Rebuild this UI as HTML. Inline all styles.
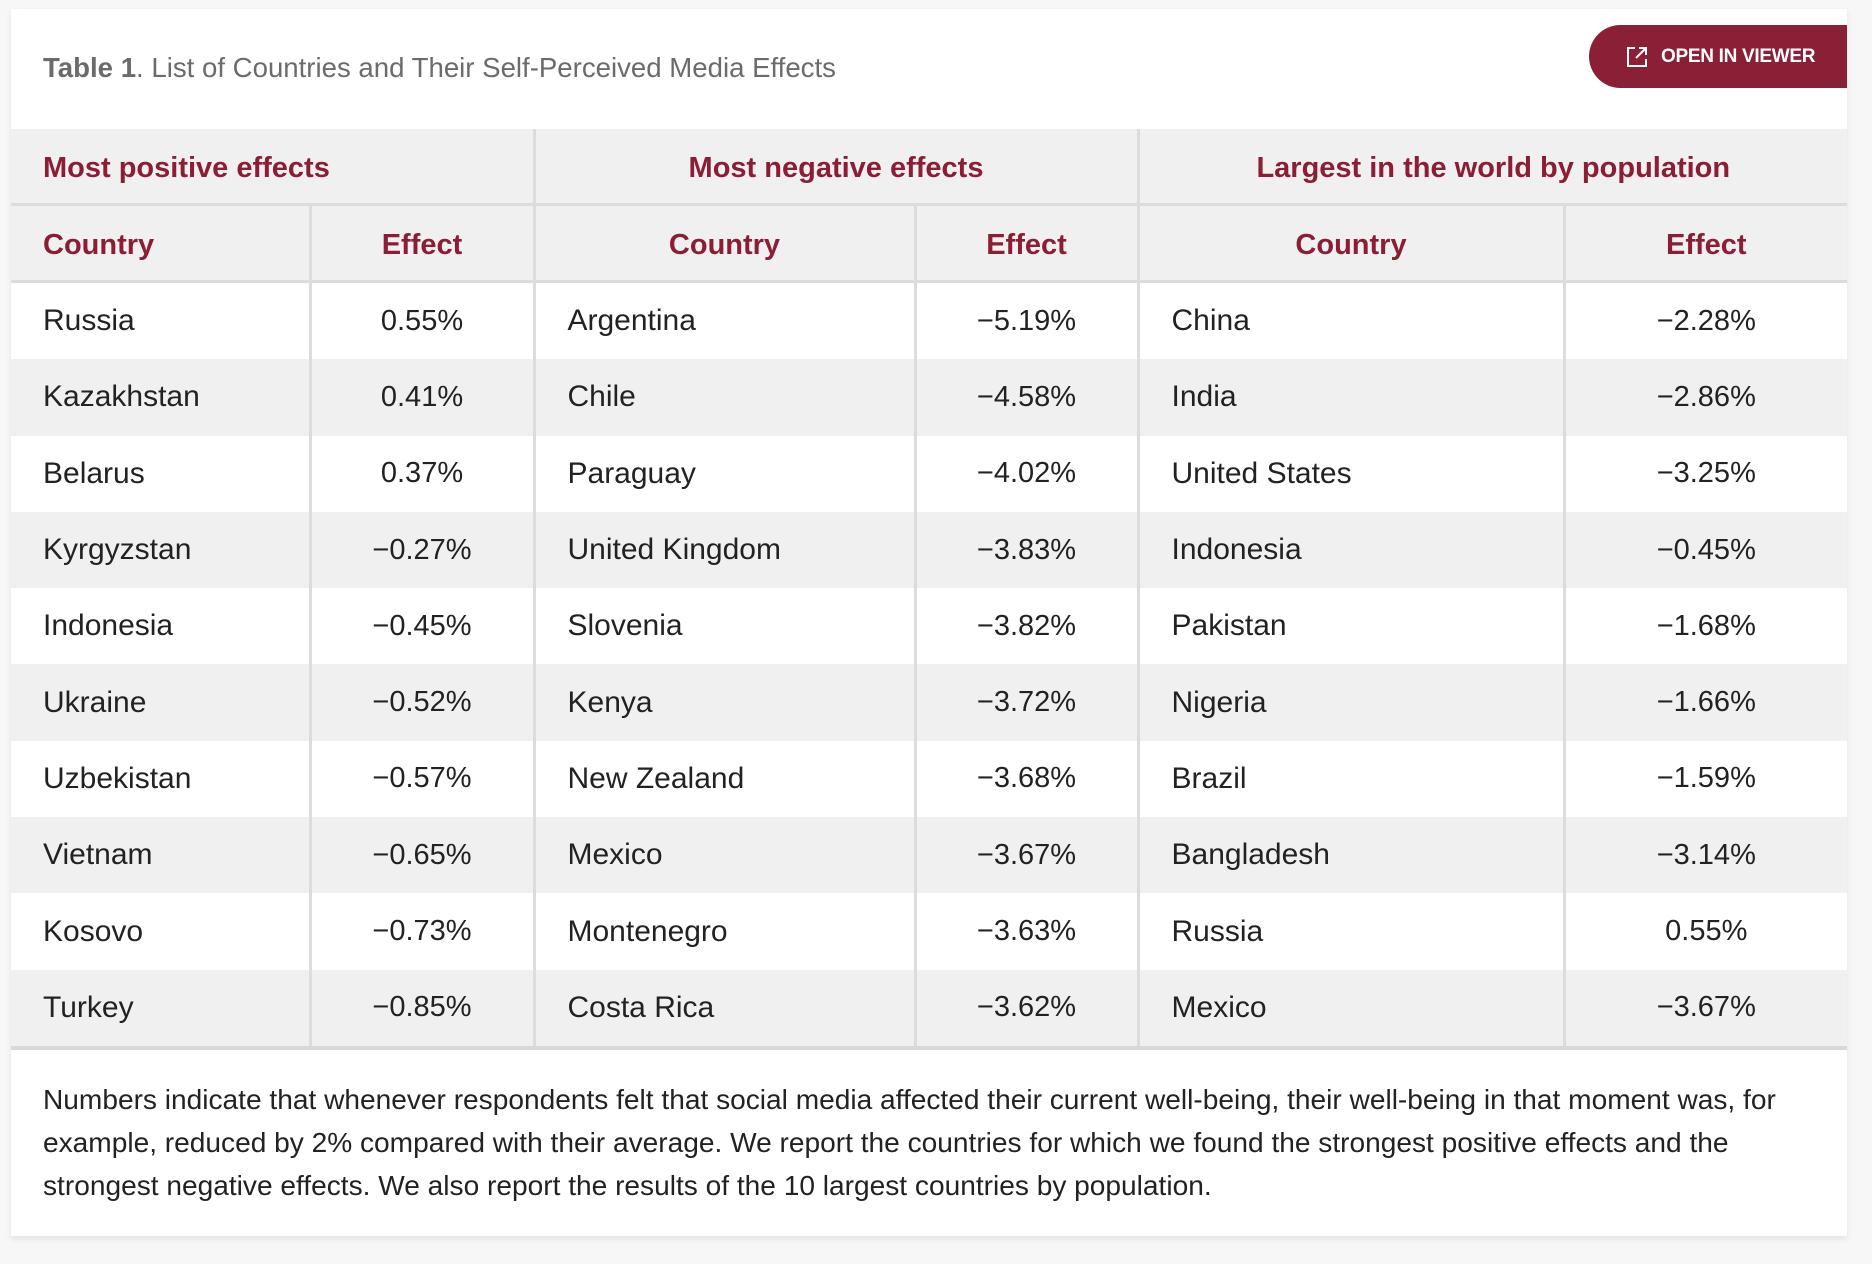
<!DOCTYPE html>
<html><head><meta charset="utf-8"><style>
body{margin:0;width:1872px;height:1264px;background:#f7f7f7;font-family:"Liberation Sans",Arial,sans-serif;position:relative;overflow:hidden}
.card{position:absolute;left:11px;top:9px;width:1836px;height:1227px;background:#fff;box-shadow:0 3px 6px rgba(0,0,0,.08)}
.title{position:absolute;left:32px;top:43px;font-size:27.6px;color:#6b6b6b}
.title b{color:#6b6b6b}
.btn{position:absolute;left:1578px;top:16px;width:258px;height:63px;background:#8a1f35;border-radius:32px 0 0 32px;color:#fff;font-weight:bold;font-size:19px;line-height:63px}
.btn span{position:absolute;left:72px;letter-spacing:-0.3px}
.btn svg{position:absolute;left:36px;top:20px}
table{position:absolute;left:0;top:120px;width:1836px;border-collapse:collapse;table-layout:fixed}
td,th{padding:0 32px;font-size:30px;line-height:1;color:#222;border-left:3px solid #dcdcdc;white-space:nowrap}
td.c{font-size:29px}
tr td:first-child,tr th:first-child{border-left:none}
th{color:#8b1e35;font-weight:bold;font-size:29px;background:#f0f0f0;height:70px;text-align:center;padding-top:4px}
tr.g th{border-bottom:3px solid #dcdcdc}
tr.h th{border-bottom:3px solid #dcdcdc}
td{height:76.3px}
tr.d:nth-child(even) td{background:#f0f0f0}
tr.last td{border-bottom:4px solid #d8d8d8}
.l{text-align:left}.c{text-align:center}
.foot{position:absolute;left:32px;top:1069px;width:1800px;font-size:28.1px;line-height:43px;color:#222;white-space:nowrap}
</style></head><body>
<div class="card">
<div class="title"><b>Table 1</b>. List of Countries and Their Self-Perceived Media Effects</div>
<div class="btn"><svg width="24" height="24" viewBox="0 0 24 24" fill="none" stroke="#fff" stroke-width="2"><path d="M10 3H3v18h18v-7"/><path d="M14 3h7v7M21 3L11 13"/></svg><span>OPEN IN VIEWER</span></div>
<table>
<colgroup><col style="width:299px"><col style="width:224px"><col style="width:381px"><col style="width:223px"><col style="width:426px"><col style="width:283px"></colgroup>
<tr class="g"><th colspan="2" class="l">Most positive effects</th><th colspan="2">Most negative effects</th><th colspan="2">Largest in the world by population</th></tr>
<tr class="h"><th class="l">Country</th><th>Effect</th><th>Country</th><th>Effect</th><th>Country</th><th>Effect</th></tr>
<tr class="d"><td>Russia</td><td class="c">0.55%</td><td>Argentina</td><td class="c">−5.19%</td><td>China</td><td class="c">−2.28%</td></tr>
<tr class="d"><td>Kazakhstan</td><td class="c">0.41%</td><td>Chile</td><td class="c">−4.58%</td><td>India</td><td class="c">−2.86%</td></tr>
<tr class="d"><td>Belarus</td><td class="c">0.37%</td><td>Paraguay</td><td class="c">−4.02%</td><td>United States</td><td class="c">−3.25%</td></tr>
<tr class="d"><td>Kyrgyzstan</td><td class="c">−0.27%</td><td>United Kingdom</td><td class="c">−3.83%</td><td>Indonesia</td><td class="c">−0.45%</td></tr>
<tr class="d"><td>Indonesia</td><td class="c">−0.45%</td><td>Slovenia</td><td class="c">−3.82%</td><td>Pakistan</td><td class="c">−1.68%</td></tr>
<tr class="d"><td>Ukraine</td><td class="c">−0.52%</td><td>Kenya</td><td class="c">−3.72%</td><td>Nigeria</td><td class="c">−1.66%</td></tr>
<tr class="d"><td>Uzbekistan</td><td class="c">−0.57%</td><td>New Zealand</td><td class="c">−3.68%</td><td>Brazil</td><td class="c">−1.59%</td></tr>
<tr class="d"><td>Vietnam</td><td class="c">−0.65%</td><td>Mexico</td><td class="c">−3.67%</td><td>Bangladesh</td><td class="c">−3.14%</td></tr>
<tr class="d"><td>Kosovo</td><td class="c">−0.73%</td><td>Montenegro</td><td class="c">−3.63%</td><td>Russia</td><td class="c">0.55%</td></tr>
<tr class="d last"><td>Turkey</td><td class="c">−0.85%</td><td>Costa Rica</td><td class="c">−3.62%</td><td>Mexico</td><td class="c">−3.67%</td></tr>
</table>
<div class="foot">Numbers indicate that whenever respondents felt that social media affected their current well-being, their well-being in that moment was, for<br>example, reduced by 2% compared with their average. We report the countries for which we found the strongest positive effects and the<br>strongest negative effects. We also report the results of the 10 largest countries by population.</div>
</div>
</body></html>
